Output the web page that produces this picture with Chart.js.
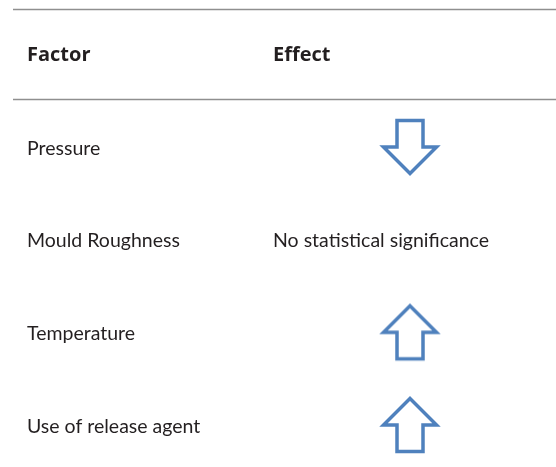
<!DOCTYPE html>
<html>
<head>
<meta charset="utf-8">
<script src="https://cdn.jsdelivr.net/npm/chart.js@4"></script>
<style>
html,body{margin:0;padding:0;background:#fff;}
#wrap{width:556px;height:467px;position:relative;}
</style>
</head>
<body>
<div id="wrap"><canvas id="c" width="556" height="467"></canvas></div>
<script>
const headers = ['Factor', 'Effect'];
const factors = ['Pressure', 'Mould Roughness', 'Temperature', 'Use of release agent'];
const effects = [-1, 0, 1, 1];            // -1 decrease, 0 none, 1 increase
const effectLabels = ['', 'No statistical significance', '', ''];

const FONT = 'Lato, "Open Sans", sans-serif';
const HFONT = '"Open Sans", Lato, sans-serif';
const TEXT = '#231f20';
const BLUE = '#4f81bd';

function makeArrow() {
  const c = document.createElement('canvas');
  c.width = 62; c.height = 62;
  const g = c.getContext('2d');
  g.translate(31, 31);
  g.beginPath();
  g.moveTo(0, -26.5);
  g.lineTo(26.5, 0);
  g.lineTo(13, 0);
  g.lineTo(13, 26.5);
  g.lineTo(-13, 26.5);
  g.lineTo(-13, 0);
  g.lineTo(-26.5, 0);
  g.closePath();
  g.fillStyle = '#fff';
  g.fill();
  g.lineWidth = 3.5;
  g.lineJoin = 'miter';
  g.strokeStyle = BLUE;
  g.stroke();
  return c;
}
const arrow = makeArrow();

const points = factors
  .map((f, i) => ({x: headers[1], y: f, e: effects[i]}))
  .filter(p => p.e !== 0);

const tablePlugin = {
  id: 'table',
  afterDraw(chart) {
    const ctx = chart.ctx;
    const xs = chart.scales.x, ys = chart.scales.y;
    const effX = xs.getPixelForValue(1) - 137;
    const factorX = xs.getPixelForValue(0);
    ctx.save();
    ctx.strokeStyle = '#8f8f8f';
    ctx.lineWidth = 1.5;
    ctx.beginPath();
    ctx.moveTo(13, 9.5); ctx.lineTo(556, 9.5);
    ctx.moveTo(13, 99.5); ctx.lineTo(556, 99.5);
    ctx.stroke();
    ctx.fillStyle = TEXT;
    ctx.textBaseline = 'middle';
    ctx.textAlign = 'left';
    ctx.font = 'bold 20px ' + HFONT;
    ctx.fillText(headers[0], factorX, 55);
    ctx.fillText(headers[1], effX, 55);
    ctx.font = '19.5px ' + FONT;
    factors.forEach((f, i) => {
      const y = ys.getPixelForValue(i) + 1.5;
      ctx.fillText(f, factorX, y);
      if (effectLabels[i]) ctx.fillText(effectLabels[i], effX, y);
    });
    ctx.restore();
  }
};

new Chart(document.getElementById('c'), {
  type: 'scatter',
  data: {
    datasets: [{
      data: points,
      pointStyle: arrow,
      pointRotation: ctx => (ctx.raw && ctx.raw.e < 0 ? 180 : 0),
      pointRadius: 30,
      clip: false
    }]
  },
  options: {
    responsive: false,
    animation: false,
    events: [],
    layout: {autoPadding: false, padding: {left: 27, right: 146, top: 147, bottom: 42}},
    plugins: {legend: {display: false}, tooltip: {enabled: false}},
    scales: {
      x: {type: 'category', labels: headers, offset: false, display: false},
      y: {type: 'category', labels: factors, offset: false, display: false}
    }
  },
  plugins: [tablePlugin]
});
</script>
</body>
</html>
